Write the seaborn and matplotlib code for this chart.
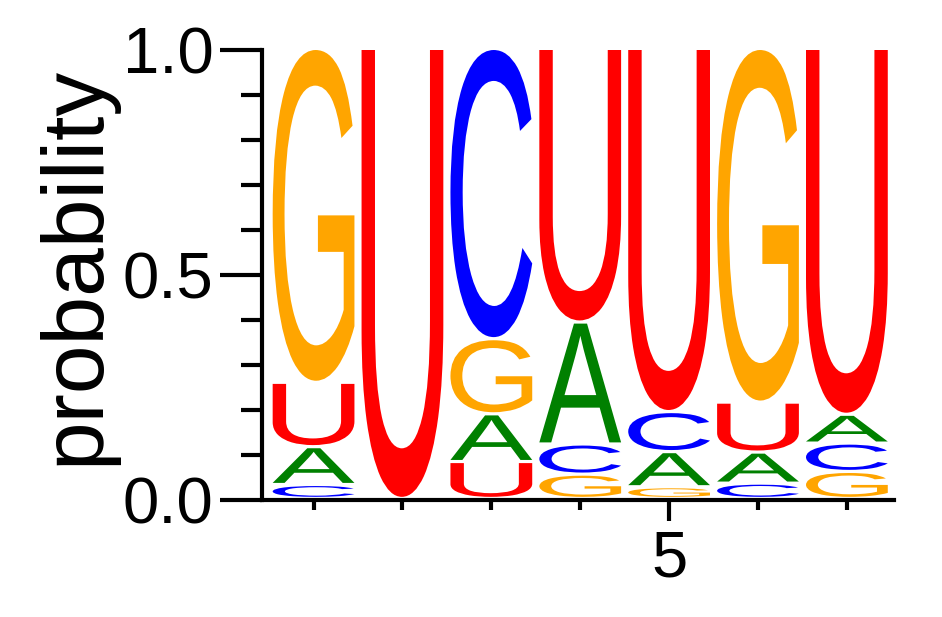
import matplotlib
matplotlib.use('Agg')
import matplotlib.pyplot as plt
import seaborn as sns
from matplotlib.textpath import TextPath
from matplotlib.patches import PathPatch
from matplotlib.font_manager import FontProperties
from matplotlib.transforms import Affine2D
from matplotlib.ticker import MultipleLocator, FixedLocator

# --- Data (probabilities per position) ---
positions = [1, 2, 3, 4, 5, 6, 7]
prob_A = [0.084, 0.000, 0.106, 0.271, 0.078, 0.069, 0.064]
prob_C = [0.031, 0.000, 0.645, 0.067, 0.089, 0.034, 0.063]
prob_G = [0.742, 0.000, 0.167, 0.054, 0.026, 0.786, 0.060]
prob_U = [0.143, 1.000, 0.082, 0.608, 0.807, 0.111, 0.813]
ytick_labels = ['0.0', '0.5', '1.0']

letter_colors = {'A': '#008000', 'C': '#0000FF', 'G': '#FFA500', 'U': '#FF0000'}

sns.set_style('ticks')
plt.rcParams['font.family'] = ['Liberation Sans', 'DejaVu Sans']
for k in ['text.color', 'axes.labelcolor', 'xtick.color', 'ytick.color', 'axes.edgecolor']:
    plt.rcParams[k] = 'black'

font = FontProperties(family='Liberation Sans')


def draw_letter(ax, letter, xc, y0, h, width=0.92, gap=0.007):
    # scale glyph so its bounding box fills the slot
    tp = TextPath((0, 0), letter, size=1, prop=font)
    ext = tp.get_extents()
    hh = max(h - gap, 1e-4)
    tr = (Affine2D()
          .translate(-ext.x0, -ext.y0)
          .scale(width / ext.width, hh / ext.height)
          .translate(xc - width / 2, y0 + gap))
    ax.add_patch(PathPatch(tr.transform_path(tp), facecolor=letter_colors[letter],
                           edgecolor='none', lw=0))


fig = plt.figure(figsize=(9.42, 6.17), dpi=100)
ax = fig.add_axes([262 / 942, 1 - 500 / 617, (894 - 262) / 942, 450 / 617])

for i, pos in enumerate(positions):
    col = {'A': prob_A[i], 'C': prob_C[i], 'G': prob_G[i], 'U': prob_U[i]}
    base = 0.0
    for letter, p in sorted(col.items(), key=lambda kv: kv[1]):
        if p <= 0:
            continue
        draw_letter(ax, letter, pos, base, p)
        base += p

ax.set_xlim(0.42, 7.53)
ax.set_ylim(0, 1)
sns.despine(ax=ax)
for s in ['left', 'bottom']:
    ax.spines[s].set_linewidth(3)
    ax.spines[s].set_color('black')

ax.set_yticks([0, 0.5, 1.0])
ax.set_yticklabels(ytick_labels)
ax.yaxis.set_minor_locator(MultipleLocator(0.1))
ax.xaxis.set_major_locator(FixedLocator([5]))
ax.xaxis.set_minor_locator(FixedLocator(positions))

ax.tick_params(axis='y', which='major', length=30, width=3, labelsize=47, pad=5, color='black', labelcolor='black')
ax.tick_params(axis='y', which='minor', length=15, width=3, color='black')
ax.tick_params(axis='x', which='major', length=15, width=3, labelsize=47, pad=6, color='black', labelcolor='black')
ax.tick_params(axis='x', which='minor', length=7, width=3, color='black')

ax.set_ylabel('probability', fontsize=63, color='black')
ax.yaxis.set_label_coords(-0.230, 0.521)

fig.savefig('out.png', dpi=100)
